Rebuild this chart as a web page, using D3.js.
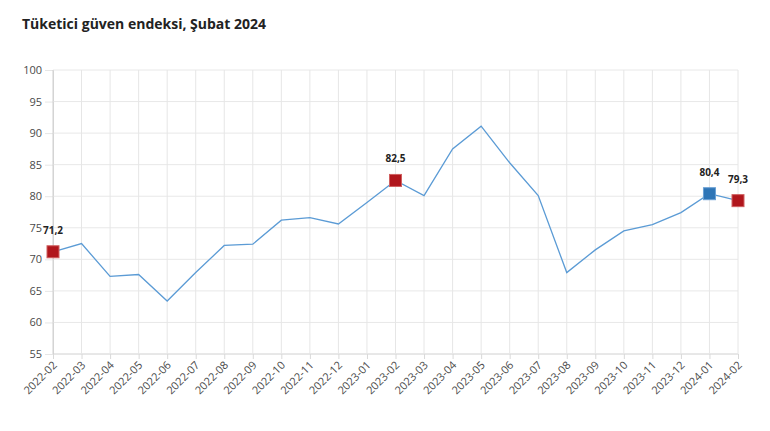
<!DOCTYPE html>
<html><head><meta charset="utf-8">
<script src="https://cdn.jsdelivr.net/npm/d3@7"></script>
<style>
html,body{margin:0;padding:0;background:#fff;}
svg{display:block;font-family:"Open Sans","Noto Sans",sans-serif;}
</style></head>
<body><svg id="c" width="770" height="431"></svg>
<script>
const title = "Tüketici güven endeksi, Şubat 2024";
const months = ["2022-02","2022-03","2022-04","2022-05","2022-06","2022-07","2022-08","2022-09","2022-10","2022-11","2022-12","2023-01","2023-02","2023-03","2023-04","2023-05","2023-06","2023-07","2023-08","2023-09","2023-10","2023-11","2023-12","2024-01","2024-02"];
const values = [71.2,72.5,67.3,67.6,63.4,67.9,72.2,72.4,76.2,76.6,75.6,79.0,82.5,80.1,87.5,91.1,85.3,80.1,67.9,71.5,74.5,75.5,77.4,80.4,79.3];
const yTicks = [55,60,65,70,75,80,85,90,95,100];
const highlightRed = ["2022-02","2023-02","2024-02"];
const highlightBlue = ["2024-01"];

const svg = d3.select("#c");
const m = {left:53, right:32, top:70, bottom:77};
const W = 770, H = 431;
const x = d3.scalePoint().domain(months).range([m.left, W - m.right]);
const y = d3.scaleLinear().domain([55,100]).range([H - m.bottom, m.top]);

svg.append("text").attr("x",22).attr("y",29).attr("font-size",14).attr("font-weight",700)
  .attr("fill","#222").text(title);

// y axis
svg.append("g").attr("transform",`translate(${m.left},0)`)
  .call(d3.axisLeft(y).tickValues(yTicks).tickSize(8).tickFormat(d3.format("d")))
  .call(g=>g.select(".domain").attr("stroke","#d9d9d9"))
  .call(g=>g.selectAll(".tick line").attr("stroke","#e6e6e6"))
  .call(g=>g.selectAll(".tick text").attr("font-size",11).attr("fill","#4a4a4a").attr("x",-11)
     .attr("font-family","'Open Sans','Noto Sans',sans-serif"));
svg.append("g").selectAll("line").data(yTicks).join("line")
  .attr("x1",m.left).attr("x2",W-m.right).attr("y1",d=>y(d)).attr("y2",d=>y(d))
  .attr("stroke",d=>d===55?"#d0d0d0":"#e8e8e8").attr("stroke-width",1);

// vertical grid
svg.append("g").selectAll("line").data(months).join("line")
  .attr("x1",d=>x(d)).attr("x2",d=>x(d)).attr("y1",m.top).attr("y2",H-m.bottom)
  .attr("stroke",d=>d===months[0]?"#d0d0d0":"#e6e6e6").attr("stroke-width",1);

// x axis
svg.append("g").attr("transform",`translate(0,${H-m.bottom})`)
  .call(d3.axisBottom(x).tickSize(5))
  .call(g=>g.select(".domain").remove())
  .call(g=>g.selectAll(".tick line").attr("stroke","#d9d9d9"))
  .call(g=>g.selectAll(".tick text").attr("font-size",11).attr("fill","#4a4a4a")
     .attr("font-family","'Open Sans','Noto Sans',sans-serif")
     .attr("text-anchor","end").attr("dx","-0.5em").attr("dy","0.3em").attr("y",8)
     .attr("transform","rotate(-45)"));

// line
svg.append("path").datum(months.map((d,i)=>[d,values[i]]))
  .attr("fill","none").attr("stroke","#5b9bd5").attr("stroke-width",1.3)
  .attr("d",d3.line().x(d=>x(d[0])).y(d=>y(d[1])));

const hl = months.map((d,i)=>({m:d,v:values[i]})).filter(d=>highlightRed.includes(d.m)||highlightBlue.includes(d.m));
const s = 12;
svg.append("g").selectAll("rect").data(hl).join("rect")
  .attr("x",d=>x(d.m)-s/2).attr("y",d=>y(d.v)-s/2).attr("width",s).attr("height",s)
  .attr("fill",d=>highlightBlue.includes(d.m)?"#2e75b6":"#b0161c")
  .attr("stroke",d=>highlightBlue.includes(d.m)?"#6aa0d4":"#d06060").attr("stroke-width",1);
svg.append("g").selectAll("text").data(hl).join("text")
  .attr("x",d=>x(d.m)).attr("y",d=>y(d.v)-18).attr("text-anchor","middle")
  .attr("font-size",10).attr("font-weight",700).attr("fill","#222")
  .text(d=>d3.format(".1f")(d.v).replace(".",","));
</script></body></html>
